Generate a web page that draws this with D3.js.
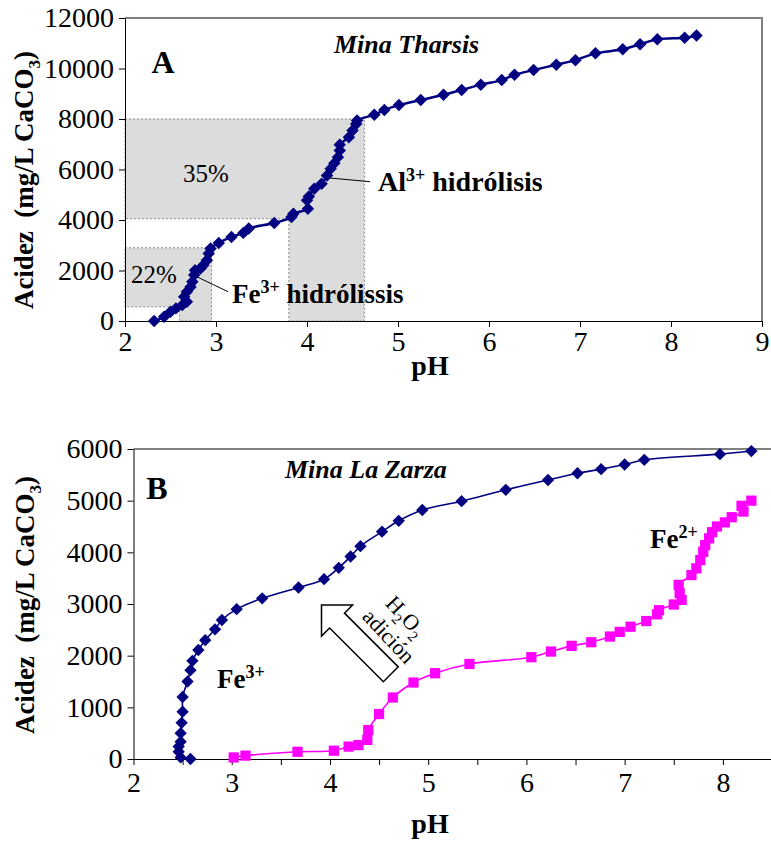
<!DOCTYPE html>
<html>
<head>
<meta charset="utf-8">
<script src="https://cdn.jsdelivr.net/npm/d3@7"></script>
<style>
  body { margin: 0; background: #fff; }
  svg { display: block; }
</style>
</head>
<body>
<div id="chart"></div>
<script>
// Panel A - Mina Tharsis (pH vs acidity)
var phTharsis = [2.32, 2.43, 2.50, 2.56, 2.63, 2.68, 2.65, 2.68, 2.72, 2.74, 2.76, 2.77, 2.83, 2.86, 2.90, 2.92, 2.94, 3.03, 3.17, 3.30, 3.36, 3.64, 3.83, 3.85, 4.01, 4.00, 4.02, 4.08, 4.16, 4.22, 4.26, 4.30, 4.34, 4.36, 4.36, 4.46, 4.50, 4.54, 4.55, 4.74, 4.85, 5.01, 5.25, 5.50, 5.70, 5.91, 6.14, 6.28, 6.49, 6.74, 6.95, 7.17, 7.47, 7.66, 7.85, 8.15, 8.28];
var acidTharsis = [0, 170, 370, 500, 630, 760, 960, 1160, 1350, 1550, 1820, 2010, 2080, 2210, 2410, 2670, 2870, 3090, 3330, 3490, 3660, 3880, 4120, 4250, 4450, 4780, 4930, 5240, 5440, 5760, 6030, 6250, 6490, 6750, 6980, 7280, 7540, 7800, 7940, 8170, 8360, 8550, 8750, 8960, 9150, 9360, 9540, 9750, 9940, 10150, 10330, 10600, 10760, 10960, 11160, 11220, 11310];

// Panel B - Mina La Zarza, Fe3+ series
var phZarzaFe3 = [2.58, 2.48, 2.46, 2.46, 2.48, 2.48, 2.49, 2.50, 2.50, 2.55, 2.58, 2.60, 2.66, 2.73, 2.83, 2.90, 3.05, 3.31, 3.68, 3.94, 4.09, 4.21, 4.31, 4.53, 4.70, 4.94, 5.34, 5.79, 6.22, 6.52, 6.76, 7.00, 7.20, 7.97, 8.29];
var acidZarzaFe3 = [0, 30, 140, 240, 335, 500, 700, 915, 1200, 1500, 1720, 1900, 2110, 2300, 2510, 2690, 2900, 3110, 3320, 3480, 3700, 3920, 4120, 4400, 4610, 4820, 4990, 5210, 5400, 5530, 5610, 5700, 5790, 5900, 5960];

// Panel B - Mina La Zarza, Fe2+ series
var phZarzaFe2 = [3.02, 3.14, 3.67, 4.04, 4.19, 4.29, 4.38, 4.39, 4.50, 4.64, 4.85, 5.07, 5.42, 6.05, 6.25, 6.46, 6.66, 6.85, 6.95, 7.06, 7.22, 7.33, 7.35, 7.50, 7.58, 7.56, 7.55, 7.68, 7.73, 7.77, 7.80, 7.82, 7.86, 7.89, 7.94, 8.02, 8.09, 8.21, 8.19, 8.29];
var acidZarzaFe2 = [30, 65, 140, 160, 240, 270, 370, 560, 870, 1190, 1480, 1660, 1840, 1970, 2080, 2190, 2260, 2370, 2460, 2560, 2670, 2800, 2880, 2990, 3080, 3210, 3370, 3560, 3690, 3850, 4010, 4140, 4270, 4390, 4500, 4580, 4680, 4790, 4900, 5000];

// Tick values
var xTicksA = [2, 3, 4, 5, 6, 7, 8, 9];
var yTicksA = [0, 2000, 4000, 6000, 8000, 10000, 12000];
var xTicksB = [2, 2.5, 3, 3.5, 4, 4.5, 5, 5.5, 6, 6.5, 7, 7.5, 8];
var xLabelsB = [2, 3, 4, 5, 6, 7, 8];
var yTicksB = [0, 1000, 2000, 3000, 4000, 5000, 6000];

// Shaded hydrolysis zones in panel A: [pH from, pH to, acid from, acid to]
var zoneAl = { box: [2, 4.63, 4050, 8000], strip: [3.80, 4.63, 0, 4050], label: "35%" };
var zoneFe = { box: [2, 2.95, 560, 2900], strip: [2.60, 2.95, 0, 560], label: "22%" };

var w = 771, h = 841;
var serif = "'Liberation Serif', 'Times New Roman', serif";
var navy = "#000080", magenta = "#ff00ff";

var svg = d3.select("#chart").append("svg")
    .attr("width", w)
    .attr("height", h)
    .style("font-family", serif);

var xA = d3.scaleLinear().domain([2, 9]).range([125, 762]);
var yA = d3.scaleLinear().domain([0, 12000]).range([321, 18]);
var xB = d3.scaleLinear().domain([2, 8.5]).range([133.5, 772]);
var yB = d3.scaleLinear().domain([0, 6000]).range([759, 449]);

function zip(xs, ys) {
    return xs.map(function(x, i) { return { ph: x, acid: ys[i] }; });
}

// outline of box + strip below it (L shape)
function zonePath(z) {
    var b = z.box, s = z.strip;
    var pts = [
        [xA(b[0]), yA(b[3])], [xA(b[1]), yA(b[3])], [xA(b[1]), yA(0)],
        [xA(s[0]), yA(0)], [xA(s[0]), yA(b[2])], [xA(b[0]), yA(b[2])]
    ];
    return "M" + pts.join("L") + "Z";
}

[zoneAl, zoneFe].forEach(function(z) {
    svg.append("path")
        .attr("d", zonePath(z))
        .attr("fill", "#dcdcdc")
        .attr("stroke", "#8a8a8a")
        .attr("stroke-width", 1)
        .attr("stroke-dasharray", "2,2");
});

function styleAxis(g) {
    g.selectAll("text").style("font-size", "28px").style("font-family", serif).attr("fill", "#000");
    g.selectAll("line").attr("stroke", "#000");
    g.select(".domain").attr("stroke", "#000");
}

function drawPanel(x, y, xTicks, yTicks, labelTicks, pad) {
    var x0 = x.range()[0], x1 = x.range()[1], y0 = y.range()[0], y1 = y.range()[1];
    // gray frame top/right
    svg.append("path")
        .attr("d", "M" + x0 + "," + y1 + "H" + x1 + "V" + y0)
        .attr("fill", "none")
        .attr("stroke", "#808080")
        .attr("stroke-width", 2);

    svg.append("g")
        .attr("transform", "translate(0," + y0 + ")")
        .call(d3.axisBottom(x).tickValues(xTicks).tickSize(6).tickSizeOuter(0).tickPadding(pad)
            .tickFormat(function(d) { return labelTicks.indexOf(d) >= 0 ? d3.format("d")(d) : ""; }))
        .call(styleAxis);

    svg.append("g")
        .attr("transform", "translate(" + x0 + ",0)")
        .call(d3.axisLeft(y).tickValues(yTicks).tickSize(6).tickSizeOuter(0).tickPadding(5)
            .tickFormat(d3.format("d")))
        .call(styleAxis);
}

drawPanel(xA, yA, xTicksA, yTicksA, xTicksA, 4);
drawPanel(xB, yB, xTicksB, yTicksB, xLabelsB, 7);

// axis titles
function yTitle(cx, cy) {
    var t = svg.append("text")
        .attr("transform", "translate(" + cx + "," + cy + ") rotate(-90)")
        .attr("text-anchor", "middle")
        .style("font-size", "27px")
        .style("font-weight", "bold");
    t.append("tspan").text("Acidez\u00a0 (mg/L CaCO");
    t.append("tspan").attr("dy", 7).style("font-size", "17px").text("3");
    t.append("tspan").attr("dy", -7).text(")");
}
yTitle(33, 180);
yTitle(34, 605);

[[430, 375], [430, 833]].forEach(function(p) {
    svg.append("text")
        .attr("x", p[0]).attr("y", p[1])
        .attr("text-anchor", "middle")
        .style("font-size", "28px")
        .style("font-weight", "bold")
        .text("pH");
});

// series
function drawSeries(data, x, y, color, width, symbol, size, rotate) {
    var line = d3.line()
        .x(function(d) { return x(d.ph); })
        .y(function(d) { return y(d.acid); })
        .curve(d3.curveCatmullRom.alpha(0.5));

    svg.append("path")
        .datum(data)
        .attr("fill", "none")
        .attr("stroke", color)
        .attr("stroke-width", width)
        .attr("d", line);

    svg.append("g").selectAll("path")
        .data(data)
        .enter()
        .append("path")
        .attr("d", d3.symbol().type(symbol).size(size))
        .attr("transform", function(d) {
            return "translate(" + x(d.ph) + "," + y(d.acid) + ") rotate(" + rotate + ")";
        })
        .attr("fill", color);
}

drawSeries(zip(phTharsis, acidTharsis), xA, yA, navy, 2.5, d3.symbolSquare, 78, 45);
drawSeries(zip(phZarzaFe3, acidZarzaFe3), xB, yB, navy, 1.6, d3.symbolSquare, 76, 45);
drawSeries(zip(phZarzaFe2, acidZarzaFe2), xB, yB, magenta, 1.6, d3.symbolSquare, 105, 0);

// labels with superscripts
function label(x, y, base, sup, rest, size, style) {
    var t = svg.append("text")
        .attr("x", x).attr("y", y)
        .style("font-size", size + "px")
        .style("font-weight", "bold")
        .style("font-style", style || "normal");
    t.append("tspan").text(base);
    if (sup) {
        t.append("tspan").attr("dy", -10).style("font-size", Math.round(size * 0.66) + "px").text(sup);
        t.append("tspan").attr("dy", 10).text(rest || "");
    }
    return t;
}

svg.append("text").attr("x", 163).attr("y", 73).attr("text-anchor", "middle")
    .style("font-size", "32px").style("font-weight", "bold").text("A");
label(334, 53, "Mina Tharsis", null, null, 26, "italic");
label(378, 191, "Al", "3+", "\u00a0hidrólisis", 28);
label(232, 303, "Fe", "3+", "\u00a0hidrólissis", 27);

[zoneAl, zoneFe].forEach(function(z, i) {
    svg.append("text")
        .attr("x", i === 0 ? 206 : 154)
        .attr("y", i === 0 ? 182 : 283)
        .attr("text-anchor", "middle")
        .style("font-size", "25px")
        .text(z.label);
});

// leader lines
[[330, 178, 370, 181.7], [196.7, 276.7, 228, 291.7]].forEach(function(l) {
    svg.append("line")
        .attr("x1", l[0]).attr("y1", l[1]).attr("x2", l[2]).attr("y2", l[3])
        .attr("stroke", "#000").attr("stroke-width", 1);
});

svg.append("text").attr("x", 157).attr("y", 499).attr("text-anchor", "middle")
    .style("font-size", "32px").style("font-weight", "bold").text("B");
label(285, 478, "Mina La Zarza", null, null, 26, "italic");
label(217, 688, "Fe", "3+", "", 27);
label(650, 548, "Fe", "2+", "", 27);

// H2O2 addition block arrow (points up-left)
var L = 98, H = 22, sw = 10.5;
var arrowPts = [[0, 0], [H, -H], [H, -sw], [L, -sw], [L, sw], [H, sw], [H, H]];
svg.append("path")
    .attr("d", "M" + arrowPts.join("L") + "Z")
    .attr("transform", "translate(321.5,605) rotate(45)")
    .attr("fill", "#fff")
    .attr("stroke", "#000")
    .attr("stroke-width", 1.5);

var h2o2 = svg.append("text")
    .attr("transform", "translate(406,616) rotate(47)")
    .attr("text-anchor", "middle")
    .attr("dy", "0.35em")
    .style("font-size", "22px");
h2o2.append("tspan").text("H");
h2o2.append("tspan").attr("dy", 6).style("font-size", "15px").text("2");
h2o2.append("tspan").attr("dy", -6).text("O");
h2o2.append("tspan").attr("dy", 6).style("font-size", "15px").text("2");

svg.append("text")
    .attr("transform", "translate(389,636) rotate(47)")
    .attr("text-anchor", "middle")
    .attr("dy", "0.35em")
    .style("font-size", "22px")
    .text("adición");
</script>
</body>
</html>
